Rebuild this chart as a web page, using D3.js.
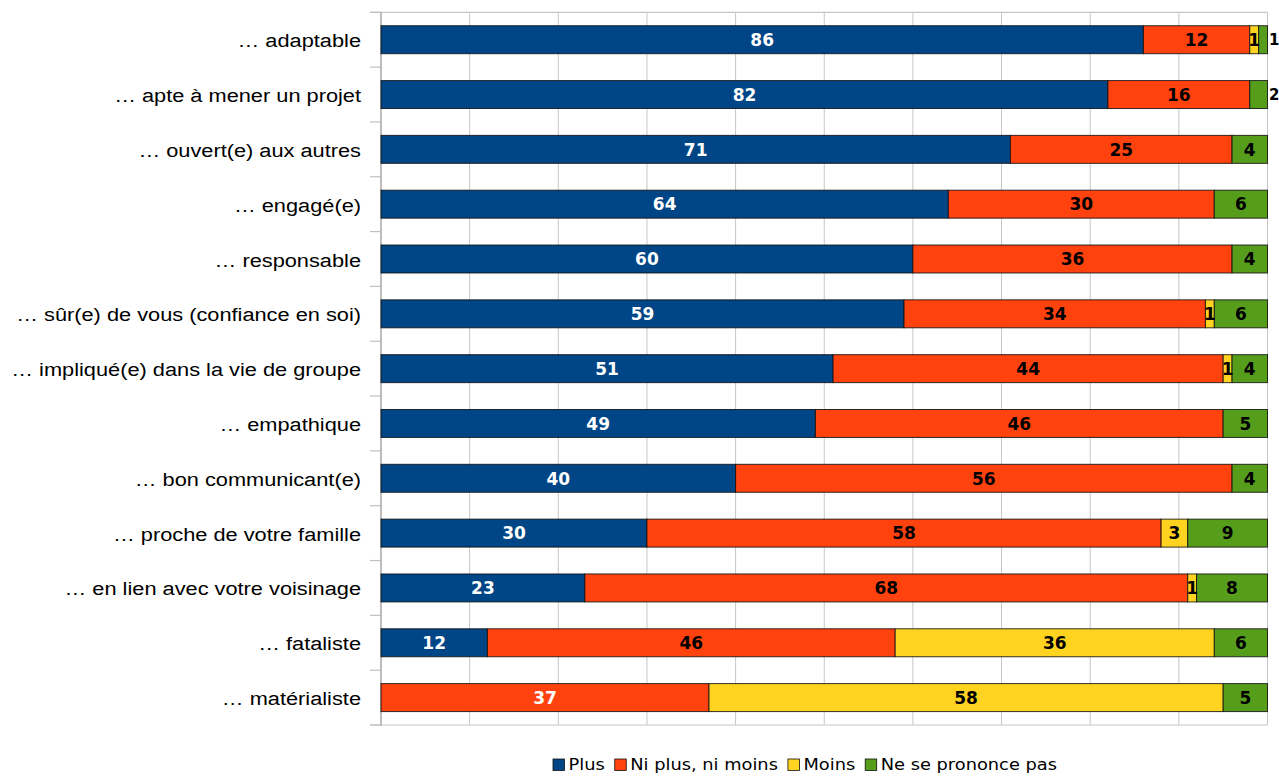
<!DOCTYPE html>
<html>
<head>
<meta charset="utf-8">
<script src="https://cdn.jsdelivr.net/npm/d3@7"></script>
<style>
  html, body { margin: 0; padding: 0; background: #ffffff; }
  svg { display: block; }
</style>
</head>
<body>
<svg id="chart" width="1279" height="776"></svg>
<script>
// Survey items (rows, top to bottom)
const categories = [
  "… adaptable",
  "… apte à mener un projet",
  "… ouvert(e) aux autres",
  "… engagé(e)",
  "… responsable",
  "… sûr(e) de vous (confiance en soi)",
  "… impliqué(e) dans la vie de groupe",
  "… empathique",
  "… bon communicant(e)",
  "… proche de votre famille",
  "… en lien avec votre voisinage",
  "… fataliste",
  "… matérialiste"
];

// Series names (legend order = stacking order)
const seriesNames = ["Plus", "Ni plus, ni moins", "Moins", "Ne se prononce pas"];
const seriesColors = ["#004586", "#ff420e", "#ffd320", "#579d1c"];

// Percentages for each series, one value per category
const plus        = [86, 82, 71, 64, 60, 59, 51, 49, 40, 30, 23, 12, 0];
const niPlusMoins = [12, 16, 25, 30, 36, 34, 44, 46, 56, 58, 68, 46, 37];
const moins       = [ 1,  0,  0,  0,  0,  1,  1,  0,  0,  3,  1, 36, 58];
const nsp         = [ 1,  2,  4,  6,  4,  6,  4,  5,  4,  9,  8,  6,  5];

const xTicks = [0, 10, 20, 30, 40, 50, 60, 70, 80, 90, 100];

const seriesValues = [plus, niPlusMoins, moins, nsp];

// Build rows for d3.stack
const rows = categories.map((c, i) => {
  const r = { category: c };
  seriesNames.forEach((s, k) => { r[s] = seriesValues[k][i]; });
  return r;
});

const svg = d3.select("#chart");

const plotLeft = 381, plotRight = 1267.5, plotTop = 12.3, plotBottom = 725;

const x = d3.scaleLinear().domain([0, 100]).range([plotLeft, plotRight]);
const y = d3.scaleBand()
  .domain(categories)
  .range([plotTop, plotBottom])
  .paddingInner(0.49)
  .paddingOuter(0.245);

const color = d3.scaleOrdinal().domain(seriesNames).range(seriesColors);

const stacked = d3.stack().keys(seriesNames)(rows);

// Vertical gridlines
svg.append("g")
  .selectAll("line")
  .data(xTicks)
  .join("line")
  .attr("x1", d => x(d)).attr("x2", d => x(d))
  .attr("y1", plotTop).attr("y2", plotBottom)
  .attr("stroke", "#c6c6c6")
  .attr("stroke-width", 1);

// Top and bottom frame lines (extend over the tick area on the left)
svg.append("g")
  .selectAll("line")
  .data([plotTop, plotBottom])
  .join("line")
  .attr("x1", plotLeft - 11).attr("x2", plotRight)
  .attr("y1", d => d).attr("y2", d => d)
  .attr("stroke", "#c6c6c6")
  .attr("stroke-width", 1.2);

// Category boundary ticks on the left axis
const step = y.step();
const boundaries = d3.range(categories.length + 1).map(i => plotTop + i * step);
svg.append("g")
  .selectAll("line")
  .data(boundaries)
  .join("line")
  .attr("x1", plotLeft - 11).attr("x2", plotLeft)
  .attr("y1", d => d).attr("y2", d => d)
  .attr("stroke", "#c0c0c0")
  .attr("stroke-width", 1.2);

// Left axis line
svg.append("line")
  .attr("x1", plotLeft).attr("x2", plotLeft)
  .attr("y1", plotTop).attr("y2", plotBottom + 1)
  .attr("stroke", "#b3b3b3")
  .attr("stroke-width", 1.6);

// Stacked bars
const layers = svg.append("g")
  .selectAll("g")
  .data(stacked)
  .join("g")
  .attr("fill", d => color(d.key));

layers.selectAll("rect")
  .data(d => d.filter(p => p[1] - p[0] > 0))
  .join("rect")
  .attr("x", d => x(d[0]))
  .attr("y", d => y(d.data.category))
  .attr("width", d => x(d[1]) - x(d[0]))
  .attr("height", y.bandwidth())
  .attr("stroke", "#111")
  .attr("stroke-opacity", 0.85)
  .attr("stroke-width", 1);

// Value labels (a narrow last segment gets its label just past the bar end)
const labelData = [];
rows.forEach((r, i) => {
  const nonZero = seriesNames.filter(s => r[s] > 0);
  stacked.forEach(layer => {
    const p = layer[i];
    const v = p[1] - p[0];
    if (v <= 0) return;
    const w = x(p[1]) - x(p[0]);
    const isFirst = layer.key === nonZero[0];
    const isLast = layer.key === nonZero[nonZero.length - 1];
    const outside = isLast && w < 20;
    labelData.push({
      value: v,
      x: outside ? x(p[1]) + 1.5 : (x(p[0]) + x(p[1])) / 2,
      anchor: outside ? "start" : "middle",
      size: outside ? 15 : 17,
      y: y(r.category) + y.bandwidth() / 2 + (outside ? 5.6 : 6.3),
      fill: isFirst ? "#ffffff" : "#000000"
    });
  });
});

svg.append("g")
  .selectAll("text")
  .data(labelData)
  .join("text")
  .attr("x", d => d.x)
  .attr("y", d => d.y)
  .attr("text-anchor", d => d.anchor)
  .attr("fill", d => d.fill)
  .attr("font-family", "DejaVu Sans")
  .attr("font-weight", "bold")
  .attr("font-size", d => d.size)
  .text(d => d.value);

// Category labels
svg.append("g")
  .selectAll("text")
  .data(categories)
  .join("text")
  .attr("transform", d => `translate(361,${y(d) + y.bandwidth() / 2 + 7.5}) scale(1.21,1)`)
  .attr("text-anchor", "end")
  .attr("fill", "#000")
  .attr("font-family", "Liberation Sans")
  .attr("font-size", 18)
  .text(d => d);

// Legend
const legend = svg.append("g");
const legendScale = 1.08;
let cursor = 0;
seriesNames.forEach((s, k) => {
  const g = legend.append("g");
  g.append("rect")
    .attr("x", 0).attr("y", -11)
    .attr("width", 11.5).attr("height", 11.5)
    .attr("fill", color(s))
    .attr("stroke", "#111")
    .attr("stroke-width", 0.8);
  const t = g.append("text")
    .attr("transform", `translate(15.5,0) scale(${legendScale},1)`)
    .attr("font-family", "DejaVu Sans")
    .attr("font-size", 16.5)
    .attr("fill", "#000")
    .text(s);
  const tw = t.node().getComputedTextLength() * legendScale;
  g.attr("transform", `translate(${cursor},0)`);
  cursor += 15.5 + tw + 10;
});
const legendWidth = cursor - 10;
legend.attr("transform", `translate(${805 - legendWidth / 2},770)`);
</script>
</body>
</html>
